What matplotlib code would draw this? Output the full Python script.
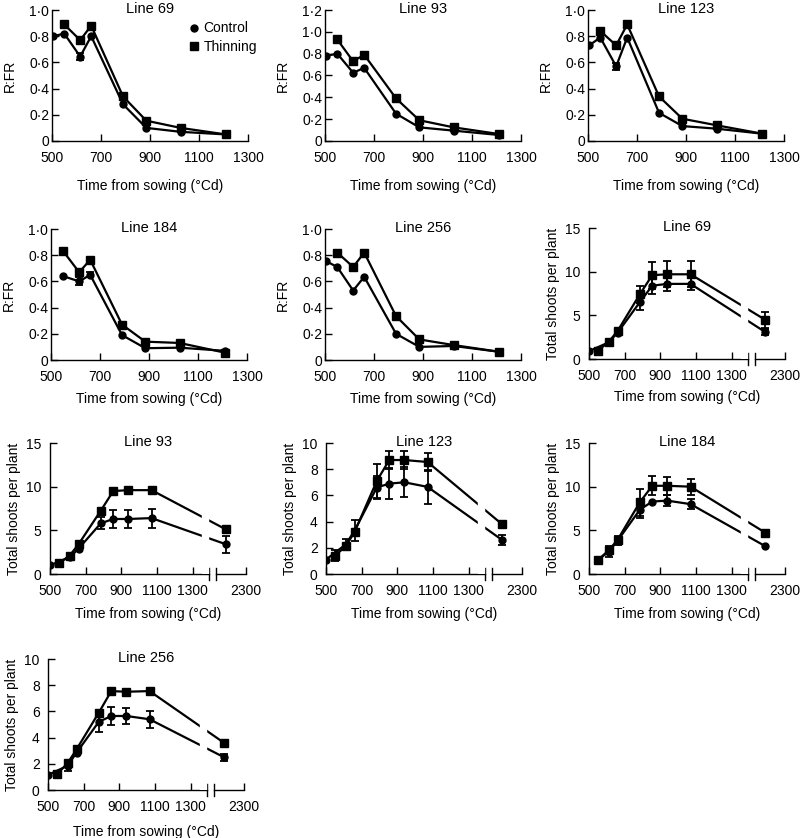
import numpy as np
import matplotlib.pyplot as plt
from matplotlib.ticker import FuncFormatter
from matplotlib.lines import Line2D

plt.rcParams['font.family'] = ['Liberation Sans', 'DejaVu Sans']
plt.rcParams['font.size'] = 10

#============================================================================#
# R:FR readings (degree days from sowing)
rfr_time = [505, 550, 615, 660, 790, 885, 1025, 1210]

rfr69_ctrl = [0.80, 0.82, 0.645, 0.80, 0.28, 0.10, 0.07, 0.05]
rfr69_thin = [None, 0.89, 0.77, 0.88, 0.34, 0.155, 0.10, 0.05]
rfr69_ctrl_err = [None, None, 0.03, None, None, None, None, None]

rfr93_ctrl = [0.78, 0.80, 0.625, 0.67, 0.25, 0.125, 0.095, 0.055]
rfr93_thin = [None, 0.93, 0.73, 0.79, 0.39, 0.19, 0.125, 0.064]

rfr123_ctrl = [0.73, 0.79, 0.57, 0.79, 0.215, 0.114, 0.094, 0.056]
rfr123_thin = [None, 0.84, 0.73, 0.89, 0.34, 0.17, 0.12, 0.056]
rfr123_ctrl_err = [None, None, 0.025, None, None, None, None, None]

rfr184_ctrl = [None, 0.64, 0.60, 0.65, 0.19, 0.09, 0.094, 0.07]
rfr184_thin = [None, 0.83, 0.67, 0.765, 0.27, 0.14, 0.13, 0.056]
rfr184_ctrl_err = [None, None, 0.03, 0.02, None, None, None, None]

rfr256_ctrl = [0.754, 0.71, 0.53, 0.635, 0.20, 0.10, 0.107, 0.063]
rfr256_thin = [None, 0.82, 0.71, 0.82, 0.335, 0.157, 0.114, 0.063]

#============================================================================#
# total shoots per plant, last reading sits after the axis break
shoot_time = [500, 550, 610, 660, 785, 855, 940, 1070, 2100]

sh69_ctrl = [0.9, None, 1.9, 3.0, 6.5, 8.4, 8.6, 8.6, 3.1]
sh69_thin = [None, 0.95, 1.95, 3.2, 7.4, 9.6, 9.7, 9.7, 4.5]
sh69_ctrl_err = [None, None, None, 0.3, 0.85, 0.9, 0.8, 0.7, 0.3]
sh69_thin_err = [None, None, None, None, 1.0, 1.55, 1.5, 1.5, 0.9]

sh93_ctrl = [1.0, None, 1.9, 2.9, 5.8, 6.3, 6.3, 6.4, 3.4]
sh93_thin = [None, 1.25, 2.1, 3.4, 7.25, 9.5, 9.6, 9.6, 5.1]
sh93_ctrl_err = [None, None, 0.3, 0.3, 0.7, 1.05, 1.05, 1.1, 1.0]
sh93_thin_err = [None, None, None, None, None, None, None, None, 0.3]

sh123_ctrl = [1.1, None, 2.25, 3.3, 6.6, 6.9, 7.0, 6.65, 2.6]
sh123_thin = [None, 1.4, 2.1, 3.2, 7.1, 8.7, 8.7, 8.55, 3.8]
sh123_ctrl_err = [None, None, 0.45, 0.8, 0.85, 1.2, 1.15, 1.3, 0.35]
sh123_thin_err = [None, 0.4, None, None, 1.3, 0.7, 0.7, 0.7, None]

sh184_ctrl = [None, 1.6, 2.55, 3.8, 7.35, 8.3, 8.4, 8.0, 3.2]
sh184_thin = [None, 1.6, 2.7, 3.9, 8.2, 10.1, 10.1, 10.0, 4.75]
sh184_ctrl_err = [None, None, 0.6, 0.5, 0.95, None, 0.65, 0.6, None]
sh184_thin_err = [None, None, None, None, 1.55, 1.1, 1.0, 0.9, None]

sh256_ctrl = [1.15, None, 1.85, 2.85, 5.2, 5.65, 5.65, 5.4, 2.5]
sh256_thin = [None, 1.2, 2.05, 3.1, 5.9, 7.55, 7.5, 7.55, 3.6]
sh256_ctrl_err = [None, None, 0.4, None, 0.8, 0.65, 0.6, 0.63, 0.25]
sh256_thin_err = [None, None, None, None, None, None, None, None, None]

#============================================================================#
def arr(v):
    return np.array([np.nan if a is None else a for a in v], dtype=float)

# squash 1400-2000 into a tiny gap so 2300 sits just after 1300
def fwd(x):
    x = np.asarray(x, dtype=float)
    return np.where(x <= 1400, x,
                    np.where(x <= 2000, 1400 + (x - 1400) * 32 / 600.,
                             1432 + (x - 2000) * 0.56))

def inv(u):
    u = np.asarray(u, dtype=float)
    return np.where(u <= 1400, u,
                    np.where(u <= 1432, 1400 + (u - 1400) * 600 / 32.,
                             2000 + (u - 1432) / 0.56))

def dot_fmt(v, pos):
    if abs(v) < 1e-9:
        return '0'
    if abs(v - round(v)) < 1e-9 and v >= 2:
        return '%d' % v
    return ('%.1f' % v).replace('.', '\u00b7')

fig = plt.figure(figsize=(8, 8.38), dpi=100)
W, H = 800., 838.

def make_ax(left, top):
    return fig.add_axes([left / W, 1 - (top + 131) / H, 196 / W, 131 / H])

def draw(ax, t, ctrl, thin, ctrl_err=None, thin_err=None):
    t = np.array(t, dtype=float)
    c = arr(ctrl)
    th = arr(thin)
    mc = ~np.isnan(c)
    mt = ~np.isnan(th)
    ax.plot(t[mc], c[mc], '-o', color='black', lw=1.6, ms=5, zorder=3)
    ax.plot(t[mt], th[mt], '-s', color='black', lw=1.6, ms=6, zorder=3)
    if ctrl_err is not None:
        ax.errorbar(t, c, yerr=arr(ctrl_err), fmt='none', ecolor='black',
                    elinewidth=1.3, capsize=2.8, capthick=1.3, zorder=3)
    if thin_err is not None:
        ax.errorbar(t, th, yerr=arr(thin_err), fmt='none', ecolor='black',
                    elinewidth=1.3, capsize=2.8, capthick=1.3, zorder=3)

def style(ax, title, ymax, ystep, ylabel, ylabelpad, ypad, xlabelpad):
    for s in ['top', 'right']:
        ax.spines[s].set_visible(False)
    ax.spines['left'].set_linewidth(1.0)
    ax.spines['bottom'].set_linewidth(1.0)
    ax.set_ylim(0, ymax)
    ax.set_yticks(np.arange(0, ymax + 1e-9, ystep))
    ax.yaxis.set_major_formatter(FuncFormatter(dot_fmt))
    ax.tick_params(direction='in', length=5, width=1.0, labelsize=10)
    ax.tick_params(axis='x', pad=7)
    ax.tick_params(axis='y', pad=ypad)
    ax.set_ylabel(ylabel, fontsize=10, labelpad=ylabelpad)
    ax.set_xlabel('Time from sowing (\u00b0Cd)', fontsize=10, labelpad=xlabelpad)
    ax.text(0.5, 1.01, title, transform=ax.transAxes, ha='center',
            va='center', fontsize=10.5)

#============================================================================#
rfr_panels = [
    (52, 10, 'Line 69', rfr69_ctrl, rfr69_thin, rfr69_ctrl_err, 1.0, 10),
    (325, 10, 'Line 93', rfr93_ctrl, rfr93_thin, None, 1.2, 10),
    (588, 10, 'Line 123', rfr123_ctrl, rfr123_thin, rfr123_ctrl_err, 1.0, 10),
    (51, 229, 'Line 184', rfr184_ctrl, rfr184_thin, rfr184_ctrl_err, 1.0, 6),
    (325, 229, 'Line 256', rfr256_ctrl, rfr256_thin, None, 1.0, 6),
]

for left, top, title, c, th, ce, ymax, xlp in rfr_panels:
    ax = make_ax(left, top)
    draw(ax, rfr_time, c, th, ce)
    ax.set_xlim(500, 1300)
    ax.set_xticks([500, 700, 900, 1100, 1300])
    style(ax, title, ymax, 0.2, 'R:FR', 9, 2, xlp)

shoot_panels = [
    (589, 228, 'Line 69', sh69_ctrl, sh69_thin, sh69_ctrl_err, sh69_thin_err, 15, 5, 5),
    (50, 443, 'Line 93', sh93_ctrl, sh93_thin, sh93_ctrl_err, sh93_thin_err, 15, 5, 7),
    (326, 443, 'Line 123', sh123_ctrl, sh123_thin, sh123_ctrl_err, sh123_thin_err, 10, 2, 7),
    (589, 443, 'Line 184', sh184_ctrl, sh184_thin, sh184_ctrl_err, sh184_thin_err, 15, 5, 7),
    (48, 659, 'Line 256', sh256_ctrl, sh256_thin, sh256_ctrl_err, sh256_thin_err, 10, 2, 8),
]

for left, top, title, c, th, ce, te, ymax, ystep, xlp in shoot_panels:
    ax = make_ax(left, top)
    ax.set_xscale('function', functions=(fwd, inv))
    draw(ax, shoot_time, c, th, ce, te)
    ax.set_xlim(500, 2300)
    ax.set_xticks([500, 700, 900, 1100, 1300, 2300])
    ax.set_xticklabels(['500', '700', '900', '1100', '1300', '2300'])
    style(ax, title, ymax, ystep, 'Total shoots per plant', 4, 6, xlp)
    # gap in the lines before the break
    ax.axvspan(1352, 1388, color='white', zorder=3.5)
    # broken x axis drawn by hand
    ax.spines['bottom'].set_visible(False)
    tr = ax.get_xaxis_transform()
    ax.plot([500, 1393], [0, 0], color='black', lw=1.0, transform=tr, clip_on=False)
    ax.plot([2000, 2300], [0, 0], color='black', lw=1.0, transform=tr, clip_on=False)
    for xb in [1393, 2000]:
        ax.plot([xb, xb], [-0.045, 0.045], color='black', lw=1.0,
                transform=tr, clip_on=False)

# legend only in the first panel
ax0 = fig.axes[0]
hands = [Line2D([], [], color='black', marker='o', ls='none', ms=5),
         Line2D([], [], color='black', marker='s', ls='none', ms=6)]
ax0.legend(hands, ['Control', 'Thinning'], loc='upper left',
           bbox_to_anchor=(0.66, 0.955), frameon=False, handletextpad=0.2,
           borderaxespad=0, labelspacing=0.3, fontsize=10, handlelength=1.0)

plt.savefig('out.png', dpi=100)
